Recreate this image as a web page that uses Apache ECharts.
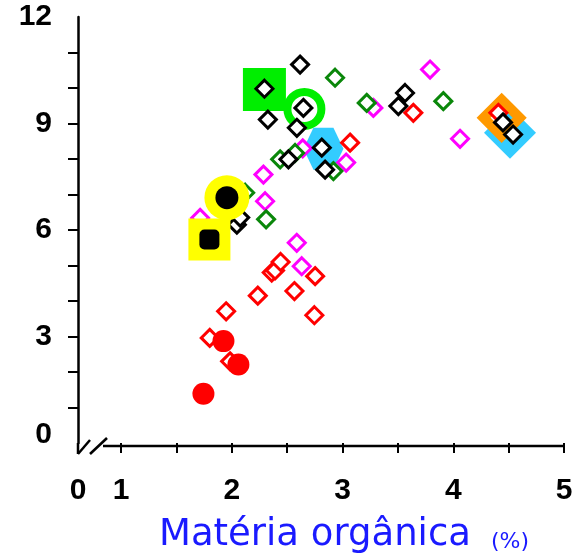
<!DOCTYPE html>
<html><head><meta charset="utf-8">
<script src="https://cdn.jsdelivr.net/npm/echarts@6/dist/echarts.min.js"></script>
<style>html,body{margin:0;padding:0;background:#fff}#c{width:587px;height:555px}</style>
</head><body><div id="c"></div>
<script>
// ---- axis definitions ----
const xMin = 0.61;               // broken axis: left end is labelled "0"
const xMax = 5;
const xTickValues = [1, 1.5, 2, 2.5, 3, 3.5, 4, 4.5, 5];
const xLabelValues = [xMin, 1, 2, 3, 4, 5];
const yTickValues = [1, 2, 3, 4, 5, 6, 7, 8, 9, 10, 11];
const yLabelInterval = 3;
const axisTitle = 'Matéria orgânica';
const axisUnit = '(%)';

// ---- data (x = matéria orgânica %, y = value) ----
const redOpen = [[1.80,2.96],[1.948,3.71],[2.234,4.15],[1.984,2.30],[2.36,4.80],[2.39,4.86],[2.44,5.10],
  [2.565,4.28],[2.752,4.70],[2.745,3.60],[3.068,8.46],[3.639,9.30],[4.407,9.30]];
const redFilled = [[1.924,2.87],[2.059,2.21],[1.743,1.39]];
const magentaOpen = [[2.586,5.64],[2.631,4.98],[2.285,7.56],[2.300,6.81],[1.713,6.34],[3.032,7.90],
  [3.278,9.44],[3.790,10.52],[4.061,8.57],[2.64,8.30]];
const greenOpen = [[2.932,10.29],[3.218,9.58],[3.910,9.63],[2.436,7.99],[2.571,8.17],[2.917,7.66],
  [2.309,6.30],[2.12,7.05]];
const blackOpen = [[2.616,10.66],[2.294,9.98],[2.325,9.11],[2.646,9.44],[2.587,8.88],[2.812,8.32],
  [2.511,7.99],[2.842,7.70],[3.564,9.86],[3.504,9.49],[4.449,9.03],[4.540,8.69],[2.045,6.15],[2.075,6.35]];
const yellowSquare = [[1.797,5.73]];
const yellowCircle = [[1.955,6.91]];
const greenSquare = [[2.294,9.96]];
const greenRing = [[2.655,9.41]];
const blueHexagon = [[2.827,8.29]];
const orangeDiamond = [[4.437,9.16]];
const blueDiamond = [[4.512,8.74]];

const hexPath = 'path://M-1,0 L-0.5,-0.866 L0.5,-0.866 L1,0 L0.5,0.866 L-0.5,0.866 Z';

function sc(data, symbol, size, style, z) {
  return { type: 'scatter', data: data, symbol: symbol, symbolSize: size,
           itemStyle: Object.assign({ opacity: 1 }, style),
           z: z, silent: true, emphasis: { disabled: true }, animation: false };
}
const diamondStyle = c => ({ color: '#fff', borderColor: c, borderWidth: 3 });

const chart = echarts.init(document.getElementById('c'), null, { renderer: 'canvas' });
const labelFont = { fontSize: 30, fontWeight: 'bold', fontFamily: 'Liberation Sans', color: '#000' };

chart.setOption({
  animation: false,
  backgroundColor: '#fff',
  grid: { left: 78, right: 23, top: 17, bottom: 112 },
  title: [
    { text: axisTitle, left: 154, top: 508,
      textStyle: { fontFamily: 'DejaVu Sans', fontWeight: 'normal', fontSize: 37, color: '#1a1aff', lineHeight: 44 } },
    { text: axisUnit, left: 486, top: 524,
      textStyle: { fontFamily: 'DejaVu Sans', fontWeight: 'normal', fontSize: 22, color: '#1a1aff', lineHeight: 26 } }
  ],
  xAxis: {
    type: 'value', min: xMin, max: xMax,
    axisLine: { show: false },
    splitLine: { show: false },
    axisTick: { show: true, customValues: xTickValues, length: 10, lineStyle: { color: '#000', width: 2 } },
    axisLabel: Object.assign({ customValues: xLabelValues, margin: 33,
      formatter: v => (v < 0.9 ? '0' : String(v)) }, labelFont)
  },
  yAxis: {
    type: 'value', min: 0, max: 12, interval: yLabelInterval,
    axisLine: { show: true, lineStyle: { color: '#000', width: 2.5 } },
    splitLine: { show: false },
    axisTick: { show: true, customValues: yTickValues, length: 10, lineStyle: { color: '#000', width: 2 } },
    axisLabel: Object.assign({ margin: 26,
      formatter: v => (v === 0 ? '{z|0}' : String(v)),
      rich: { z: Object.assign({ padding: [0, 0, 16, 0] }, labelFont) } }, labelFont)
  },
  series: [
    sc(blueDiamond, 'diamond', 52, { color: '#33ccff' }, 1),
    sc(orangeDiamond, 'diamond', 36, { color: 'rgba(0,0,0,0)', borderColor: '#ff9900', borderWidth: 10 }, 1),
    sc(greenSquare, 'rect', 43, { color: '#00ee00' }, 1),
    sc(greenRing, 'circle', 34, { color: 'rgba(0,0,0,0)', borderColor: '#00ee00', borderWidth: 8 }, 1),
    sc(blueHexagon, hexPath, [40, 42], { color: '#33ccff' }, 1),
    sc(redOpen, 'diamond', 17, diamondStyle('#ff0000'), 2),
    sc(magentaOpen, 'diamond', 17, diamondStyle('#ff00ff'), 2),
    sc(greenOpen, 'diamond', 17, diamondStyle('#0a870a'), 2),
    sc(blackOpen, 'diamond', 17, diamondStyle('#000000'), 2),
    sc(redFilled, 'circle', 22, { color: '#ff0000' }, 3),
    sc(yellowSquare, 'rect', 42, { color: '#ffff00' }, 4),
    sc(yellowSquare, 'roundRect', 20, { color: '#000' }, 5),
    sc(yellowCircle, 'circle', 45, { color: '#ffff00' }, 4),
    sc(yellowCircle, 'circle', 23, { color: '#000' }, 5)
  ]
});

// axis-break decoration, positioned from the library's own coordinate conversion
const o = chart.convertToPixel({ gridIndex: 0 }, [xMin, 0]);
const e = chart.convertToPixel({ gridIndex: 0 }, [xMax, 0]);
const ls = { stroke: '#000', lineWidth: 2.5 };
chart.setOption({
  graphic: [
    { type: 'line', shape: { x1: o[0] + 25, y1: o[1] + 3, x2: e[0] + 1, y2: o[1] + 3 }, style: ls, z: 10 },
    { type: 'line', shape: { x1: o[0], y1: o[1], x2: o[0], y2: o[1] + 11 }, style: ls, z: 10 },
    { type: 'line', shape: { x1: o[0], y1: o[1] + 11, x2: o[0] + 12, y2: o[1] - 3 }, style: ls, z: 10 },
    { type: 'line', shape: { x1: o[0] + 12, y1: o[1] + 11, x2: o[0] + 29, y2: o[1] - 5 }, style: ls, z: 10 }
  ]
});
</script>
</body></html>
